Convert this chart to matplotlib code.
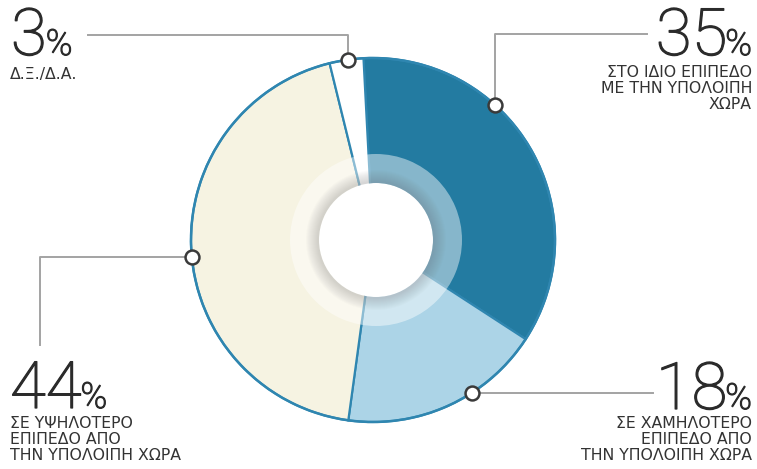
import numpy as np
import matplotlib.pyplot as plt
import matplotlib.patheffects as pe
from matplotlib.patches import Circle, Wedge

# DATOS
valores = [35, 18, 44, 3]
porcentajes = ["35", "18", "44", "3"]
textos = [
    "ΣΤΟ ΙΔΙΟ ΕΠΙΠΕΔΟ\nΜΕ ΤΗΝ ΥΠΟΛΟΙΠΗ\nΧΩΡΑ",
    "ΣΕ ΧΑΜΗΛΟΤΕΡΟ\nΕΠΙΠΕΔΟ ΑΠΟ\nΤΗΝ ΥΠΟΛΟΙΠΗ ΧΩΡΑ",
    "ΣΕ ΥΨΗΛΟΤΕΡΟ\nΕΠΙΠΕΔΟ ΑΠΟ\nΤΗΝ ΥΠΟΛΟΙΠΗ ΧΩΡΑ",
    "Δ.Ξ./Δ.Α.",
]
colores = ["#237ba1", "#acd4e7", "#f6f3e2", "#ffffff"]

W, H = 757, 469
cx, cy, R = 373, H - 240, 182
borde = "#2f86b0"
gris = "#a3a3a3"

fig = plt.figure(figsize=(W / 100, H / 100), dpi=100)
ax = fig.add_axes([0, 0, 1, 1])

ax.pie(valores, colors=colores, startangle=93, counterclock=False,
       center=(cx, cy), radius=R,
       wedgeprops=dict(edgecolor=borde, linewidth=1.6))
ax.add_patch(Circle((cx, cy), R, fill=False, edgecolor=borde, lw=1.8, zorder=3))

# anillo interior translucido con sombra
hx = cx + 3
ax.add_patch(Wedge((hx, cy), 86, 0, 360, width=29, facecolor="white",
                   alpha=0.45, lw=0, zorder=4))
for i in range(12):
    ax.add_patch(Circle((hx, cy), 57 + 13 - i, facecolor="#6f6f6f",
                        alpha=0.025, lw=0, zorder=5))
ax.add_patch(Circle((hx, cy), 57, facecolor="white", lw=0, zorder=6))

ax.set_xlim(0, W)
ax.set_ylim(0, H)
ax.set_aspect("equal")
ax.axis("off")

# LINEAS GUIA
ang_marcas = [48, -57, 185.5, 98]
for i, ang in enumerate(ang_marcas):
    mx = cx + R * np.cos(np.radians(ang))
    my = cy + R * np.sin(np.radians(ang))
    if i == 0:
        xs, ys = [mx, mx, 647], [my, H - 34, H - 34]
    elif i == 1:
        xs, ys = [mx, 653], [my, my]
    elif i == 2:
        xs, ys = [mx, 40, 40], [my, my, H - 345]
    else:
        xs, ys = [mx, mx, 88], [my, H - 35, H - 35]
    ax.plot(xs, ys, color=gris, lw=1.4, zorder=7)
    ax.plot(mx, my, "o", ms=10, mfc="white", mec="#3a3a3a", mew=1.8, zorder=8)

# NUMEROS Y TEXTOS
fuente_num = ["Roboto", "DejaVu Sans"]
fuente_txt = ["DejaVu Sans"]
pos_num = [(752, 55, "right"), (752, 409, "right"), (10, 408, "left"), (11, 55, "left")]
pos_txt = [(752, 65, "right"), (752, 416, "right"), (10, 416, "left"), (10, 67, "left")]
tam = 47
grueso = [pe.withStroke(linewidth=0.9, foreground="#2b2b2b")]

for i in range(4):
    x, y, ha = pos_num[i]
    num = porcentajes[i]
    estilo = dict(va="baseline", color="#2b2b2b", family=fuente_num,
                  weight="light", path_effects=grueso)
    if ha == "right":
        t = ax.text(x, H - y, "%", fontsize=tam * 0.55, ha="right", **estilo)
        fig.canvas.draw()
        bb = ax.transData.inverted().transform(t.get_window_extent())
        ax.text(bb[0][0] + 2, H - y, num, fontsize=tam, ha="right", **estilo)
    else:
        t = ax.text(x, H - y, num, fontsize=tam, ha="left", **estilo)
        fig.canvas.draw()
        bb = ax.transData.inverted().transform(t.get_window_extent())
        ax.text(bb[1][0] - 1, H - y, "%", fontsize=tam * 0.55, ha="left", **estilo)
    tx, ty, tha = pos_txt[i]
    ax.text(tx, H - ty, textos[i], fontsize=11.3, ha=tha, va="top", ma=tha,
            color="#333333", family=fuente_txt, linespacing=1.1)

fig.savefig("out.png", dpi=100)
